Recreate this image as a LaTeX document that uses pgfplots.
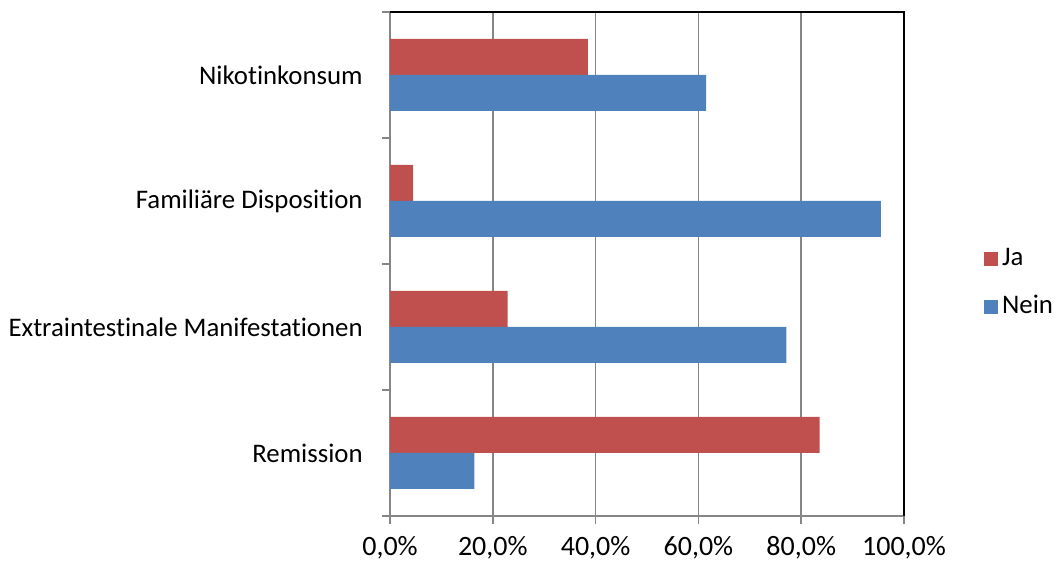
\documentclass[border=0pt]{standalone}
\usepackage{pgfplots}
\pgfplotsset{compat=1.18}
\usepackage{fontspec}
\setmainfont[Ligatures=NoCommon]{Carlito}
\definecolor{jared}{HTML}{C0504D}
\definecolor{neinblue}{HTML}{4F81BD}
\definecolor{gridgray}{HTML}{868686}
\begin{document}
\fontsize{13.4}{16}\selectfont
\begin{tikzpicture}
\begin{axis}[
  width=257pt, height=252pt, scale only axis,
  xmin=0, xmax=100, ymin=-0.5, ymax=3.5,
  xbar, bar width=18pt,
  xtick={0,20,40,60,80,100},
  xticklabels={{0,0\%},{20,0\%},{40,0\%},{60,0\%},{80,0\%},{100,0\%}},
  xmajorgrids, grid style={gridgray, line width=0.75pt},
  ytick={-0.5,0.5,1.5,2.5,3.5}, yticklabels={},
  extra y ticks={0,1,2,3},
  extra y tick labels={Remission,Extraintestinale Manifestationen,Familiäre Disposition,Nikotinkonsum},
  extra y tick style={major tick length=0pt, grid=none,
    yticklabel style={xshift=-9pt}},
  tick align=outside, major tick length=4pt,
  tick style={gridgray, line width=0.75pt},
  xtick pos=bottom, ytick pos=left,
  axis line style={gridgray, line width=0.75pt},
  xticklabel style={yshift=-1.5pt, font=\fontsize{14}{16}\selectfont},
  legend style={at={(rel axis cs:1.155,0.462)}, anchor=west, draw=none,
    fill=none, row sep=9pt, inner sep=0pt,
    /tikz/every even column/.append style={column sep=3pt}},
  legend cell align=left,
  legend image code/.code={\fill[#1, draw=none] (0pt,-3.5pt) rectangle (7pt,3.5pt);},
  clip=false,
]
\addplot[fill=jared, draw=none, bar shift=9pt] coordinates {
  (83.6,0) (22.9,1) (4.5,2) (38.5,3)};
\addplot[fill=neinblue, draw=none, bar shift=-9pt] coordinates {
  (16.4,0) (77.1,1) (95.5,2) (61.5,3)};
\legend{Ja,Nein}
\draw[black, line width=0.9pt] (rel axis cs:0,1) -- (rel axis cs:1,1) -- (rel axis cs:1,0);
\coordinate (bbl) at (rel axis cs:-0.7588,-0.0933);
\coordinate (btr) at (rel axis cs:1.3054,1.0238);
\end{axis}
\pgfresetboundingbox
\path[use as bounding box] (bbl) rectangle (btr);
\end{tikzpicture}
\end{document}
